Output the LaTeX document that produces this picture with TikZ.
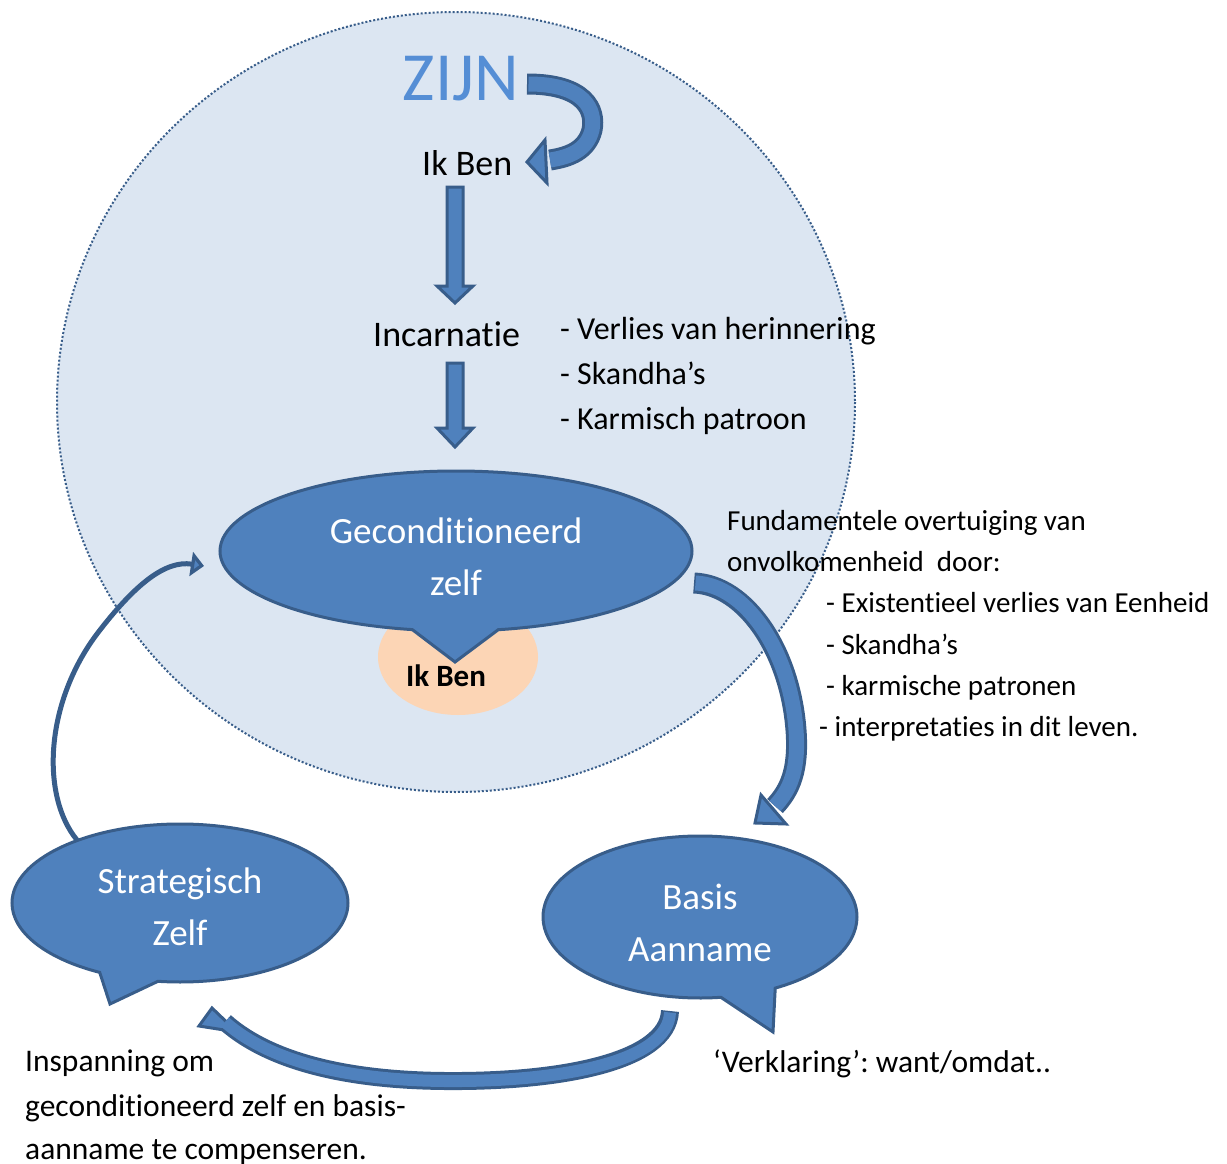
\documentclass[tikz,border=0pt]{standalone}
\usepackage{fontspec}
\setmainfont{Carlito}[Ligatures={NoCommon,NoContextual}]
\usetikzlibrary{shapes.geometric,shapes.callouts,arrows.meta,calc}

\definecolor{realmfill}{RGB}{220,230,242}
\definecolor{bubblefill}{RGB}{79,129,189}
\definecolor{bubbleborder}{RGB}{56,93,138}
\definecolor{zijnblue}{RGB}{85,142,213}
\definecolor{corefill}{RGB}{252,213,181}

\tikzset{
  bubble/.style={ellipse callout, draw=bubbleborder, fill=bubblefill, line width=3pt,
    text=white, align=center, inner sep=0pt, callout pointer arc=21,
    font=\fontsize{37}{52}\selectfont},
  txt/.style={anchor=base west, inner sep=0pt, font=\fontsize{29}{35}\selectfont},
  lowtxt/.style={anchor=base west, inner sep=0pt, font=\fontsize{31.5}{35}\selectfont},
  bigtxt/.style={anchor=base west, inner sep=0pt, font=\fontsize{36}{40}\selectfont},
  listtxt/.style={anchor=base west, inner sep=0pt, font=\fontsize{32}{40}\selectfont},
  shaftout/.style={draw=bubbleborder, line width=21pt},
  shaftin/.style={draw=bubblefill, line width=15pt},
  headfill/.style={fill=bubblefill, draw=bubbleborder, line width=3pt},
}

\begin{document}
\frenchspacing
\begin{tikzpicture}[x=1pt, y=-1pt]
\useasboundingbox (0,0) rectangle (1227,1164);

% the realm of being
\draw[fill=realmfill, draw=bubbleborder, line width=2pt, dash pattern=on 2pt off 2pt] (456,402) ellipse [x radius=399, y radius=390];

% texts in the circle
\node[anchor=base, inner sep=0pt, text=zijnblue, font=\fontsize{69}{72}\selectfont] (zijn) at (461,100) {ZIJN};
\node[bigtxt] (ikben) at (422,175) {Ik Ben};
\node[bigtxt] (incarnatie) at (373,346) {Incarnatie};
\node[listtxt] (verlies) at (560,339) {- Verlies van herinnering};
\node[listtxt] (skandha) at (560,384) {- Skandha’s};
\node[listtxt] (karmisch) at (560,429) {- Karmisch patroon};

% curved arrow ZIJN -> Ik Ben
\coordinate (zijnout) at (527,84);
\coordinate (ikbenin) at (550,160);
\coordinate (ikbentip) at (527,162);
\draw[shaftout] (zijnout) .. controls (585,84) and (596,110) .. (592,130) .. controls (587,150) and (570,157) .. (ikbenin);
\draw[headfill] (ikbentip) -- (545,140) -- (547,183) -- cycle;
\draw[shaftin] ($(zijnout)+(1.5,0)$) .. controls (585,84) and (596,110) .. (592,130) .. controls (587,150) and (570,157) .. (ikbenin);

% straight arrows
\coordinate (a1top) at (455,187);
\coordinate (a1tip) at (455,303);
\coordinate (a2top) at (455,363);
\coordinate (a2tip) at (455,447);
\draw[headfill] ($(a1top)+(-8,0)$) -- ($(a1tip)+(-8,-17)$) -- ($(a1tip)+(-18,-17)$) -- (a1tip) -- ($(a1tip)+(18,-17)$) -- ($(a1tip)+(8,-17)$) -- ($(a1top)+(8,0)$) -- cycle;
\draw[headfill] ($(a2top)+(-8,0)$) -- ($(a2tip)+(-8,-19)$) -- ($(a2tip)+(-18,-19)$) -- (a2tip) -- ($(a2tip)+(18,-19)$) -- ($(a2tip)+(8,-19)$) -- ($(a2top)+(8,0)$) -- cycle;

% core
\node[ellipse, fill=corefill, minimum width=160, minimum height=116, inner sep=0pt] (core) at (458,657) {};
\node[anchor=base, inner sep=0pt, font=\fontsize{31}{35}\selectfont\bfseries] (corelabel) at (446,686) {Ik Ben};

% thin arrow Strategisch Zelf -> Geconditioneerd zelf
\coordinate (szout) at (77,840);
\coordinate (gzin) at (204,566);
\draw[draw=bubbleborder, line width=5pt, -{Triangle[length=13pt, width=24pt, fill=bubblefill]}] (szout) .. controls (40,795) and (45,700) .. (100,630) .. controls (135,585) and (165,560) .. (gzin);

% bubbles
\node[bubble, minimum width=472, minimum height=160, callout absolute pointer={(455,662)}] (gz) at (456,551) {\rule{0pt}{38pt}Geconditioneerd\\zelf};
\node[bubble, minimum width=336, minimum height=158, callout absolute pointer={(110,1004)}] (sz) at (180,903) {\rule{0pt}{34pt}Strategisch\\Zelf};
\node[bubble, minimum width=314, minimum height=162, callout absolute pointer={(773,1032)}] (ba) at (700,917) {\rule{0pt}{38pt}Basis\\Aanname};

% arrow Geconditioneerd zelf -> Basis Aanname
\coordinate (gzout) at (694,583);
\coordinate (bain) at (775,806);
\coordinate (batip) at (755,823);
\draw[shaftout] (gzout) .. controls (745,585) and (790,650) .. (796,730) .. controls (799,770) and (790,790) .. (bain);
\draw[headfill] (batip) -- (761,795) -- (786,824) -- cycle;
\draw[shaftin] ($(gzout)+(1.5,0)$) .. controls (745,585) and (790,650) .. (796,730) .. controls (799,770) and (790,790) .. (bain);

% arrow Basis Aanname -> Strategisch Zelf
\coordinate (baout) at (670,1011);
\coordinate (szin) at (225,1022);
\coordinate (sztip) at (199,1026);
\draw[shaftout, line width=18pt] (baout) .. controls (668,1062) and (560,1082) .. (445,1081) .. controls (330,1080) and (262,1055) .. (szin);
\draw[headfill] (sztip) -- (212,1008) -- (237,1032) -- cycle;
\draw[shaftin, line width=12pt] ($(baout)+(0,1.5)$) .. controls (668,1062) and (560,1082) .. (445,1081) .. controls (330,1080) and (262,1055) .. (szin);

% explanations
\node[txt] (fund1) at (727,530) {Fundamentele overtuiging van};
\node[txt] (fund2) at (727,571) {onvolkomenheid\ \ door:};
\node[txt] (fund3) at (826,612) {- Existentieel verlies van Eenheid};
\node[txt] (fund4) at (826,654) {- Skandha’s};
\node[txt] (fund5) at (826,695) {- karmische patronen};
\node[txt] (fund6) at (819,736) {- interpretaties in dit leven.};
\node[lowtxt] (insp1) at (25,1071) {Inspanning om};
\node[lowtxt] (insp2) at (25,1116) {geconditioneerd zelf en basis-};
\node[lowtxt] (insp3) at (25,1159) {aanname te compenseren.};
\node[lowtxt] (verkl) at (713,1072) {‘Verklaring’: want/omdat..};
\end{tikzpicture}
\end{document}
